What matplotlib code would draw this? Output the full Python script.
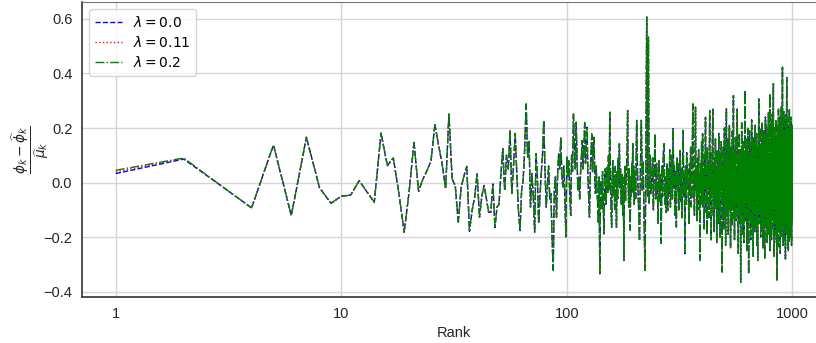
import numpy as np
import matplotlib
matplotlib.use('Agg')
import matplotlib.pyplot as plt
from matplotlib.ticker import FixedLocator, FixedFormatter, NullLocator

# ranks: every rank up to 200, then every second rank up to 1000
ranks = list(range(1, 201)) + list(range(202, 1001, 2))

# the three curves only differ visibly at the first two ranks
head_00 = [0.033, 0.086]
head_11 = [0.039, 0.088]
head_20 = [0.045, 0.090]

# shared values, rank 3 .. 200
tail_a = [
    -0.018, -0.093, 0.138, -0.121, 0.166, -0.019, -0.076, -0.050,
    -0.046, 0.007, -0.035, -0.072, 0.181, 0.062, 0.090, -0.040, -0.182, -0.030,
    0.148, -0.032, 0.013, 0.044, 0.081, 0.213, 0.136, 0.068, -0.023, 0.252,
    0.013, -0.011, -0.146, -0.017, 0.026, 0.059, -0.179, -0.103, -0.054, 0.032,
    -0.127, -0.048, -0.011, -0.060, -0.109, -0.109, -0.005, -0.165, -0.090, -0.080,
    0.030, 0.124, -0.030, 0.100, 0.050, 0.190, -0.040, 0.060, 0.180, 0.033,
    -0.100, -0.176, -0.030, 0.007, 0.120, 0.289, 0.093, 0.150, -0.090, 0.033,
    -0.050, -0.182, 0.106, 0.020, -0.150, -0.050, 0.033, 0.100, 0.228, 0.050,
    -0.090, -0.017, 0.060, -0.060, -0.040, -0.200, -0.323, -0.030, 0.020, -0.127,
    0.030, 0.105, 0.050, 0.166, 0.030, -0.017, 0.060, -0.050, -0.200, 0.093,
    0.020, 0.080, -0.040, -0.121, 0.100, 0.040, 0.252, 0.130, 0.050, 0.221,
    0.080, -0.030, 0.020, -0.060, 0.033, 0.090, 0.154, 0.050, 0.120, 0.221,
    0.070, 0.150, 0.203, 0.020, -0.050, -0.127, 0.030, 0.100, 0.179, 0.040,
    0.120, 0.166, 0.020, -0.040, 0.060, -0.020, -0.078, -0.150, 0.020, -0.335,
    -0.050, 0.007, -0.100, 0.040, -0.070, -0.188, -0.020, 0.050, -0.080, 0.030,
    0.056, -0.040, 0.100, -0.030, 0.258, 0.050, -0.090, -0.164, 0.010, 0.080,
    -0.050, 0.020, -0.100, 0.060, -0.030, -0.164, 0.040, -0.060, 0.090, 0.000,
    0.142, -0.020, 0.050, -0.080, -0.066, 0.030, -0.120, 0.020, -0.286, -0.040,
    0.060, -0.070, 0.010, 0.044, 0.120, 0.264, 0.030, -0.090, 0.050, -0.060,
    -0.176, 0.020, -0.050, 0.070, 0.000, 0.143, -0.040, 0.060, -0.080, 0.040,
]

# shared values, rank 202 .. 1000 (step 2)
tail_b = [
    -0.06, 0.228, 0.02, -0.09, -0.213, 0.05, 0.228, -0.03, 0.08, -0.12,
    -0.323, 0.04, 0.607, -0.05, 0.533, -0.08, 0.10, -0.04, 0.02, 0.09,
    -0.10, 0.05, 0.179, -0.06, 0.07, -0.02, -0.15, 0.08, -0.07, 0.03,
    -0.224, 0.06, -0.05, 0.11, 0.142, -0.08, 0.02, -0.11, 0.07, -0.103,
    0.05, -0.04, 0.12, -0.09, 0.03, 0.10, -0.06, 0.198, -0.02, 0.06,
    -0.12, 0.04, -0.164, 0.09, -0.03, 0.07, -0.10, 0.02, 0.117, -0.07,
    0.05, -0.13, 0.08, 0.191, -0.05, 0.03, -0.261, 0.06, -0.08, 0.11,
    -0.02, 0.05, -0.066, -0.15, 0.07, -0.04, 0.13, -0.09, 0.02, 0.10,
    0.289, -0.06, 0.04, -0.12, 0.08, 0.276, -0.03, 0.06, -0.14, 0.09,
    -0.05, 0.12, -0.10, 0.03, -0.286, 0.07, -0.04, 0.15, -0.08, 0.179,
    -0.09, 0.05, -0.17, 0.10, -0.03, 0.24, -0.11, 0.06, -0.19, 0.13,
    -0.02, 0.08, -0.13, 0.04, 0.264, -0.07, 0.11, -0.21, 0.05, -0.04,
    0.14, 0.27, -0.12, 0.03, -0.18, 0.09, -0.06, 0.16, -0.10, 0.02,
    -0.22, 0.12, -0.05, 0.08, -0.15, 0.18, -0.08, 0.04, -0.20, 0.10,
    -0.03, 0.15, -0.11, -0.329, 0.07, -0.06, 0.13, -0.17, 0.05, 0.20,
    -0.09, 0.11, -0.23, 0.02, 0.27, -0.12, 0.08, -0.05, 0.16, -0.19,
    0.06, -0.10, 0.21, -0.04, 0.09, -0.24, 0.13, -0.07, 0.03, -0.16,
    0.19, -0.09, 0.05, 0.319, -0.13, 0.08, -0.21, 0.12, -0.02, 0.17,
    -0.14, 0.04, -0.08, 0.14, 0.27, -0.11, 0.07, -0.26, 0.10, -0.05,
    0.18, -0.15, 0.02, 0.12, -0.366, 0.09, -0.06, 0.22, -0.12, 0.05,
    -0.19, 0.15, -0.03, 0.11, -0.22, 0.07, -0.09, 0.338, -0.14, 0.04,
    0.16, -0.07, 0.09, -0.25, 0.13, -0.04, 0.20, -0.17, 0.06, -0.335,
    0.10, -0.08, 0.19, -0.13, 0.03, 0.14, -0.21, 0.08, -0.05, 0.23,
    -0.16, 0.06, -0.10, 0.17, -0.27, 0.11, -0.02, 0.15, -0.12, 0.07,
    -0.18, 0.21, -0.06, 0.12, -0.14, 0.05, 0.18, -0.23, 0.09, -0.04,
    -0.286, 0.13, -0.09, 0.16, 0.307, -0.15, 0.06, -0.11, 0.20, -0.07,
    0.10, -0.20, 0.14, -0.03, 0.08, -0.17, 0.22, -0.10, 0.04, 0.17,
    -0.24, 0.11, -0.06, 0.19, -0.13, 0.07, -0.28, 0.15, -0.02, 0.24,
    -0.16, 0.09, -0.08, 0.21, -0.12, 0.05, -0.22, 0.18, -0.05, 0.13,
    -0.19, 0.26, -0.09, 0.10, -0.14, 0.16, 0.326, -0.25, 0.07, -0.11,
    0.22, -0.07, 0.14, -0.21, 0.09, -0.03, 0.25, -0.17, 0.11, -0.10,
    0.18, 0.362, -0.13, 0.06, -0.27, 0.20, -0.08, 0.15, -0.19, 0.12,
    -0.04, 0.23, -0.15, 0.08, -0.22, 0.17, -0.36, 0.13, -0.06, 0.21,
    -0.12, 0.10, -0.24, 0.27, -0.09, 0.16, -0.18, 0.05, 0.24, -0.14,
    0.12, -0.26, 0.19, -0.07, 0.14, -0.20, 0.28, -0.11, 0.09, -0.16,
    0.21, 0.423, -0.13, 0.18, -0.23, 0.11, -0.05, 0.26, -0.17, 0.15,
    -0.21, 0.08, 0.22, -0.12, 0.17, -0.28, 0.13, -0.06, 0.25, -0.15,
    0.10, 0.386, -0.19, 0.16, -0.09, 0.23, -0.24, 0.12, 0.04, -0.25,
    0.20, -0.13, 0.15, -0.22, 0.27, -0.08, 0.18, -0.17, 0.22, -0.11,
    0.14, -0.20, 0.24, -0.05, 0.19, -0.23, 0.16, -0.14, 0.21, 0.02,
]

lam_00 = head_00 + tail_a + tail_b
lam_11 = head_11 + tail_a + tail_b
lam_20 = head_20 + tail_a + tail_b

plt.rcParams['font.family'] = ['Liberation Sans', 'DejaVu Sans']
plt.rcParams['mathtext.fontset'] = 'dejavusans'

fig = plt.figure(figsize=(8.16, 3.43), dpi=100)
ax = fig.add_axes([0.1005, 0.134, 0.912, 0.860])

ax.plot(ranks, lam_00, color='blue', linestyle='--', linewidth=1.0, label=r'$\lambda = 0.0$')
ax.plot(ranks, lam_11, color='red', linestyle=':', linewidth=1.0, label=r'$\lambda = 0.11$')
ax.plot(ranks, lam_20, color='green', linestyle='-.', linewidth=1.0, label=r'$\lambda = 0.2$')

ax.set_xscale('log')
ax.set_xlim(0.708, 1413)
ax.set_ylim(-0.42, 0.662)
ax.xaxis.set_major_locator(FixedLocator([1, 10, 100, 1000]))
ax.xaxis.set_major_formatter(FixedFormatter(['1', '10', '100', '1000']))
ax.xaxis.set_minor_locator(NullLocator())
ax.set_yticks([-0.4, -0.2, 0.0, 0.2, 0.4, 0.6])
ax.set_yticklabels(['\u22120.4', '\u22120.2', '0.0', '0.2', '0.4', '0.6'])
ax.tick_params(axis='both', length=0, labelsize=10.5, colors='#262626', pad=7)

ax.grid(True, color='#d6d6d6', linewidth=1.0)
ax.set_axisbelow(True)
for side in ['left', 'bottom']:
    ax.spines[side].set_color('#333333')
    ax.spines[side].set_linewidth(1.2)
ax.spines['top'].set_color('#777777')
ax.spines['right'].set_visible(False)

ax.set_xlabel('Rank', fontsize=10.5, color='#262626')
ax.set_ylabel(r'$\frac{\phi_k - \widehat{\phi}_k}{\widehat{\mu}_k}$', fontsize=14, color='#262626')
ax.yaxis.set_label_coords(-0.042, 0.5)

ax.legend(loc='upper left', fontsize=10, frameon=True, framealpha=0.8, edgecolor='#cccccc',
          handlelength=1.9, handletextpad=0.8, borderpad=0.45, labelspacing=0.35)

fig.savefig('out.png', dpi=100)
